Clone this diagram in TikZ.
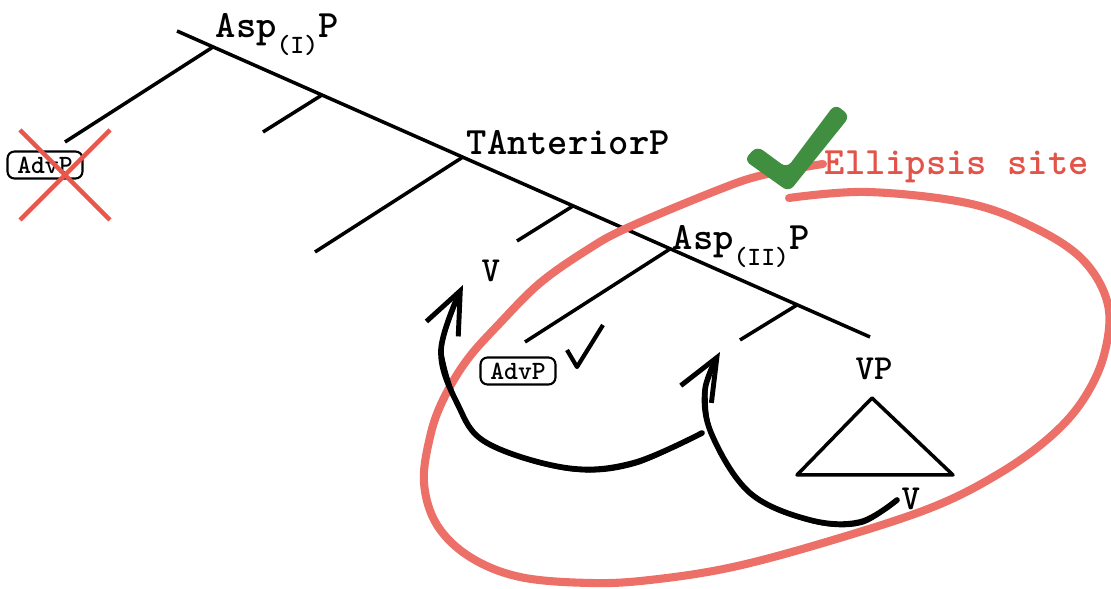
\documentclass[tikz,border=0pt]{standalone}
\usepackage{fontspec}
\usetikzlibrary{arrows.meta}
\definecolor{siteRed}{RGB}{236,112,104}
\definecolor{labelRed}{RGB}{226,84,74}
\definecolor{okGreen}{RGB}{64,142,64}
\definecolor{crossRed}{RGB}{232,86,76}
\newcommand{\twfont}{\ttfamily\bfseries}
\newcommand{\lowidx}[1]{\raisebox{-4.5pt}{\fontsize{7.5}{8}\selectfont #1}}

\begin{document}
\begin{tikzpicture}[x=0.01cm,y=-0.01cm,
	treeline/.style={line width=1pt, line join=round},
	cat/.style={font=\twfont\fontsize{11}{12}\selectfont, inner sep=0pt, anchor=base west},
	smallcat/.style={cat, font=\twfont\fontsize{10}{11}\selectfont},
	advbox/.style={draw, rounded corners=2pt, line width=0.6pt, minimum width=0.75cm, minimum height=0.27cm, inner sep=0pt, font=\twfont\fontsize{7.5}{8}\selectfont},
	movearrow/.style={line width=1.6pt, line cap=round, -{Straight Barb[length=12pt,width=10pt,line width=1.4pt]}},
	roughstroke/.style={line width=0.6pt, line cap=round, shift={(1.5,2)}},
	sitering/.style={siteRed, line width=2.3pt, line cap=round}]
	\useasboundingbox (0,0) rectangle (1111,589);
	% spine and branches
	\coordinate (top) at (177,31);
	\coordinate (bottom) at (870,337);
	\coordinate (aspI) at (213,47);     \coordinate (aspIleaf) at (65,142);
	\coordinate (barI) at (322,95);     \coordinate (barIleaf) at (263,132);
	\coordinate (tant) at (463,157);    \coordinate (tantleaf) at (315,252);
	\coordinate (barT) at (573,206);    \coordinate (barTleaf) at (517,241);
	\coordinate (aspII) at (670,249);   \coordinate (aspIIleaf) at (525,342);
	\coordinate (barII) at (797,305);   \coordinate (barIIleaf) at (740,340);
	\draw[treeline] (top) -- (bottom);
	\foreach \j/\l in {aspI/aspIleaf,barI/barIleaf,tant/tantleaf,barT/barTleaf,aspII/aspIIleaf,barII/barIIleaf}{
		\draw[treeline] (\j) -- (\l);
	}
	% labels
	\node[cat] (aspIlbl) at (215,38) {Asp\lowidx{(I)}P};
	\node[cat] (tantlbl) at (466,155) {TAnteriorP};
	\node[cat] (aspIIlbl) at (672,250) {Asp\lowidx{(II)}P};
	\node[smallcat] (vtop) at (481,282) {V};
	\node[smallcat] (vplbl) at (855,380) {VP};
	\node[smallcat] (vlow) at (901,510) {V};
	% VP triangle
	\coordinate (vptop) at (872,398);
	\coordinate (vpleft) at (797,475);
	\coordinate (vpright) at (953,475);
	\draw[treeline] (vptop) -- (vpleft) -- (vpright) -- cycle;
	% adverbs
	\node[advbox] (advbad) at (45,165) {AdvP};
	\node[advbox] (advok) at (518,371) {AdvP};
	\draw[crossRed, line width=1.3pt] (20,130) -- (110,220) (110,130) -- (20,220);
	\draw[line width=1.2pt, line join=round] (567,350) -- (577,367) -- (603,325);
	% ellipsis site
	\draw[sitering] plot[smooth, tension=0.6] coordinates {(789,198) (867,192) (967,203) (1033,227) (1083,260) (1108,305) (1104,355) (1083,400) (1050,437) (1000,473) (933,507) (833,540) (733,567) (650,580) (590,583) (520,577) (470,557) (437,525) (424,483) (430,437) (443,400) (467,360) (500,323) (540,283) (587,250) (627,228) (718,190) (763,175) (823,164)};
	\node[cat, text=labelRed] (sitelbl) at (824,175) {Ellipsis site};
	\fill[okGreen, rounded corners=2pt] (744,160) -- (757,146) -- (787,168) -- (835,104) -- (850,116) -- (789,192) -- cycle;
	% head movement
	\coordinate (mv1a) at (702,433);
	\coordinate (mv1b) at (463,285);
	\coordinate (mv2a) at (897,500);
	\coordinate (mv2b) at (720,352);
	\draw[movearrow] plot[smooth, tension=0.6] coordinates {(mv1a) (633,463) (567,468) (487,443) (458,405) (441,350) (mv1b)};
	\draw[roughstroke] plot[smooth, tension=0.6] coordinates {(mv1a) (633,463) (567,468) (487,443) (458,405) (441,350) (446,320)};
	\draw[movearrow] plot[smooth, tension=0.6] coordinates {(mv2a) (860,522) (810,520) (750,493) (712,435) (705,390) (mv2b)};
	\draw[roughstroke] plot[smooth, tension=0.6] coordinates {(mv2a) (860,522) (810,520) (750,493) (712,435) (705,390) (709,375)};
\end{tikzpicture}
\end{document}
